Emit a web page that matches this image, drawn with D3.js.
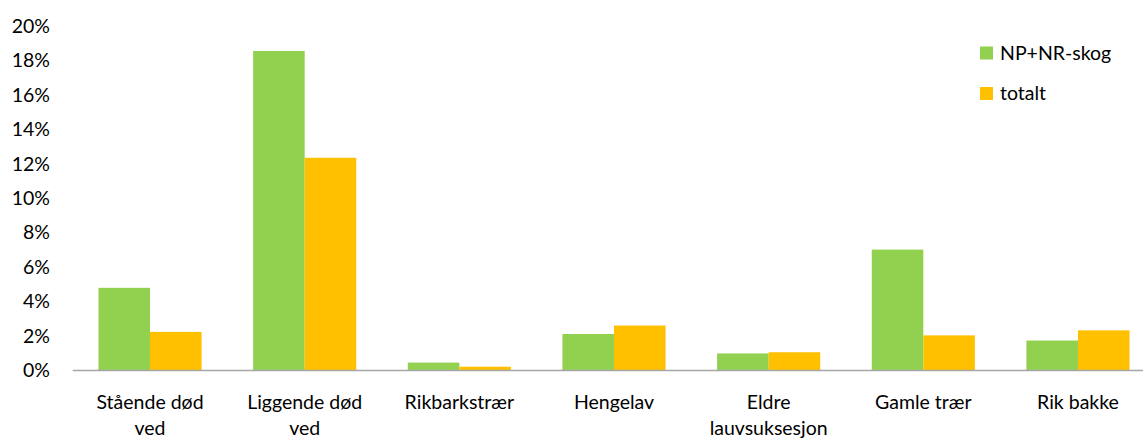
<!DOCTYPE html>
<html>
<head>
<meta charset="utf-8">
<script src="https://cdn.jsdelivr.net/npm/d3@7"></script>
<style>
	body { margin: 0; background: #fff; }
	svg { display: block; font-family: Lato, "Open Sans", sans-serif; }
</style>
</head>
<body>
<svg id="chart" width="1143" height="439"></svg>
<script>
const categories = ['Stående død ved', 'Liggende død ved', 'Rikbarkstrær', 'Hengelav', 'Eldre lauvsuksesjon', 'Gamle trær', 'Rik bakke'];
const seriesNames = ['NP+NR-skog', 'totalt'];
const npnrValues = [0.048, 0.1855, 0.0046, 0.0212, 0.0099, 0.0702, 0.0174];
const totaltValues = [0.0224, 0.1235, 0.0022, 0.0261, 0.0106, 0.0204, 0.0233];
const yTicks = [0, 0.02, 0.04, 0.06, 0.08, 0.1, 0.12, 0.14, 0.16, 0.18, 0.2];
const colors = ['#92D050', '#FFC000'];

const svg = d3.select('#chart');
const fontSize = 19.5;
// plot area runs a bit past the right edge of the picture (cropped), axis line stops at the edge
const plotLeft = 72.7, plotRight = 1155.3, axisEnd = 1143, plotTop = 26, plotBottom = 370.5;

const x = d3.scaleBand().domain(categories).range([plotLeft, plotRight]).paddingInner(1 / 3).paddingOuter(1 / 6);
const xs = d3.scaleBand().domain(seriesNames).range([0, x.bandwidth()]);
const y = d3.scaleLinear().domain([0, 0.2]).range([plotBottom, plotTop]);

const table = categories.map((c, i) => ({ cat: c, vals: [npnrValues[i], totaltValues[i]] }));

// bars
const groups = svg.append('g')
	.selectAll('g')
	.data(table)
	.join('g')
	.attr('transform', d => `translate(${x(d.cat)},0)`);

groups.selectAll('rect')
	.data(d => d.vals.map((v, k) => ({ v, name: seriesNames[k], k })))
	.join('rect')
	.attr('x', d => xs(d.name))
	.attr('width', xs.bandwidth())
	.attr('y', d => y(d.v))
	.attr('height', d => plotBottom - y(d.v))
	.attr('fill', d => colors[d.k]);

// y axis labels
const yAxis = svg.append('g')
	.attr('transform', 'translate(50,0)')
	.call(d3.axisLeft(y).tickValues(yTicks).tickFormat(d3.format('.0%')).tickSize(0).tickPadding(0));
yAxis.attr('font-family', null).attr('font-size', null);
yAxis.select('.domain').remove();
yAxis.selectAll('text').attr('font-size', fontSize).attr('fill', '#000');

// x axis
const xAxis = svg.append('g')
	.attr('transform', `translate(0,${plotBottom})`)
	.call(d3.axisBottom(x).tickSize(0).tickPadding(0).tickSizeOuter(0));
xAxis.attr('font-family', null).attr('font-size', null);
xAxis.select('.domain').attr('stroke', '#A6A6A6').attr('stroke-width', 1.5).attr('d', `M${plotLeft},0H${axisEnd}`);
xAxis.selectAll('text')
	.attr('font-size', fontSize)
	.attr('fill', '#000')
	.attr('dy', null)
	.attr('y', 0)
	.each(function(d) {
		const t = d3.select(this);
		const words = d.split(' ');
		t.text(null);
		let line = [];
		const lines = [];
		const probe = t.append('tspan');
		words.forEach(w => {
			probe.text(line.concat(w).join(' '));
			if (probe.node().getComputedTextLength() > 140 && line.length) {
				lines.push(line.join(' '));
				line = [w];
			} else {
				line.push(w);
			}
		});
		lines.push(line.join(' '));
		probe.remove();
		lines.forEach((l, i) => {
			t.append('tspan').attr('x', 0).attr('y', 38 + i * 26).text(l);
		});
	});

// legend
const legend = svg.append('g').attr('transform', 'translate(980,46.5)');
seriesNames.forEach((n, i) => {
	const g = legend.append('g').attr('transform', `translate(0,${i * 40.5})`);
	g.append('rect').attr('width', 13).attr('height', 13).attr('fill', colors[i]);
	g.append('text').attr('x', 20).attr('y', 13).attr('font-size', fontSize).text(n);
});
</script>
</body>
</html>
